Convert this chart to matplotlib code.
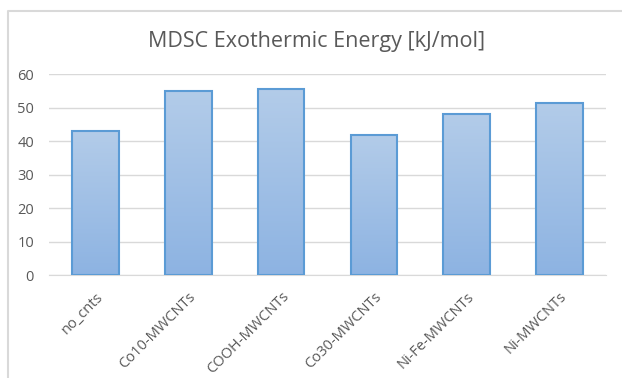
import numpy as np
import matplotlib.pyplot as plt
from matplotlib.lines import Line2D
from matplotlib.colors import LinearSegmentedColormap

samples = ['no_cnts', 'Co10-MWCNTs', 'COOH-MWCNTs', 'Co30-MWCNTs', 'Ni-Fe-MWCNTs', 'Ni-MWCNTs']
energy = [43.0, 55.0, 55.7, 42.0, 48.1, 51.5]
yticks = [0, 10, 20, 30, 40, 50, 60]

W, H = 622, 378
fig = plt.figure(figsize=(W / 100, H / 100), dpi=100)
plt.rcParams['font.family'] = ['Open Sans', 'DejaVu Sans']

# chart frame: only the top and left edges fall inside the image
fx, fy = 8 / W, 1 - 11 / H
fig.lines.append(Line2D([fx, fx, 1.0], [0.0, fy, fy], transform=fig.transFigure,
                        color='#d9d9d9', linewidth=1.5))

ax = fig.add_axes([49.3 / W, 1 - 275.3 / H, (605.7 - 49.3) / W, (275.3 - 74.3) / H])
x = np.arange(len(samples))
bars = ax.bar(x, energy, width=0.5, color='none', edgecolor='#5b9bd5',
              linewidth=1.5, zorder=3)

# vertical gradient fill, lighter at top
grad = np.linspace(0, 1, 256).reshape(-1, 1)
cmap = LinearSegmentedColormap.from_list('barfill', ['#8db3e2', '#b3cce9'])
for b in bars:
    x0, w, h = b.get_x(), b.get_width(), b.get_height()
    im = ax.imshow(grad, extent=[x0, x0 + w, 0, h], origin='lower', cmap=cmap,
                   aspect='auto', zorder=2)
    im.set_clip_path(b)

ax.set_xlim(-0.5, len(samples) - 0.5)
ax.set_ylim(0, 60)
ax.set_yticks(yticks)
ax.set_xticks(x)
ax.set_xticklabels(samples, rotation=45, ha='right', rotation_mode='anchor')
ax.tick_params(axis='both', length=0, colors='#595959', labelsize=10.5)
ax.tick_params(axis='y', pad=11)
ax.tick_params(axis='x', pad=10)
ax.grid(axis='y', color='#d9d9d9', linewidth=1, zorder=0)
for s in ['left', 'right', 'top']:
    ax.spines[s].set_visible(False)
ax.spines['bottom'].set_color('#d9d9d9')

fig.text(317 / W, 1 - 41 / H, 'MDSC Exothermic Energy [kJ/mol]', ha='center',
         va='center', fontsize=15.5, color='#595959')

fig.savefig('out.png', dpi=100)
